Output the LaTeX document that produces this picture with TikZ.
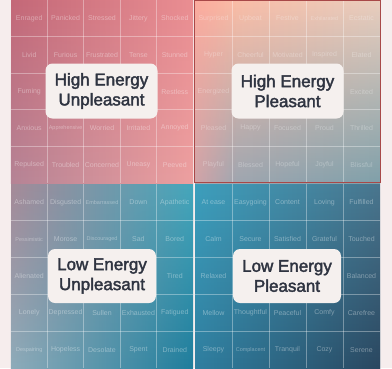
\documentclass[tikz,border=0pt]{standalone}
\usepackage{fontspec}
\setmainfont{Liberation Sans}
\newfontfamily\labelfont[FakeBold=2.2]{Liberation Sans}
\usetikzlibrary{fadings}

\definecolor{pagebg}{HTML}{F6EDED}
\definecolor{labelbg}{HTML}{F5F0EE}
\definecolor{labeltext}{HTML}{2F3441}
\definecolor{frame}{HTML}{A84848}
% corner colours of the four quadrants
\definecolor{heuTL}{HTML}{C46878}
\definecolor{heuTR}{HTML}{EA8E92}
\definecolor{heuBL}{HTML}{B58496}
\definecolor{heuBR}{HTML}{EEA0A0}
\definecolor{hepTL}{HTML}{FFB8A0}
\definecolor{hepTR}{HTML}{EACEBE}
\definecolor{hepBL}{HTML}{A8A8B2}
\definecolor{hepBR}{HTML}{7FA0AA}
\definecolor{hepPink}{HTML}{F9A09E}
\definecolor{leuTL}{HTML}{A68A98}
\definecolor{leuTR}{HTML}{45A7BC}
\definecolor{leuBL}{HTML}{8EACBA}
\definecolor{leuBR}{HTML}{1F7D9C}
\definecolor{lepTL}{HTML}{3D9FBD}
\definecolor{lepTR}{HTML}{4A768E}
\definecolor{lepBL}{HTML}{2F7FA0}
\definecolor{lepBR}{HTML}{2A4760}

\tikzfading[name=fade lin, top color=transparent!100, bottom color=transparent!0]
\tikzfading[name=fade late, top color=transparent!100, middle color=transparent!80, bottom color=transparent!0]

\begin{document}
\begin{tikzpicture}[
    x=1pt, y=-1pt,
    word/.style={font=\fontsize{7}{8}\selectfont, text=white, text opacity=0.38, inner sep=0pt},
    smallword/.style={word, font=\fontsize{5.5}{6}\selectfont},
    paleword/.style={word, text opacity=0.3},
    gridline/.style={white, opacity=0.35, line width=0.8pt},
    quadlabel/.style={fill=labelbg, rounded corners=7pt, minimum width=112pt, minimum height=55pt, inner sep=0pt, align=center, text=labeltext, font=\labelfont\fontsize{17}{20}\selectfont},
    hepframe/.style={draw=frame, line width=1pt}
]

\fill[pagebg] (0,0) rectangle (392,368);
\useasboundingbox (0,0) rectangle (392,368);

% Quadrant 1: High Energy Unpleasant
\shade[left color=heuTL, right color=heuTR] (11,0) rectangle (193,183);
\shade[left color=heuBL, right color=heuBR, path fading=fade lin] (11,0) rectangle (193,183);

% Quadrant 2: High Energy Pleasant
\shade[left color=hepTL, right color=hepTR] (195,0) rectangle (380,183);
\shade[left color=hepBL, right color=hepBR, path fading=fade late] (195,0) rectangle (380,183);
\fill[hepPink, path fading=east, opacity=0.5] (195,0) rectangle (236,183);

% Quadrant 3: Low Energy Unpleasant
\shade[left color=leuTL, right color=leuTR] (11,184) rectangle (193,368);
\shade[left color=leuBL, right color=leuBR, path fading=fade lin] (11,184) rectangle (193,368);

% Quadrant 4: Low Energy Pleasant
\shade[left color=lepTL, right color=lepTR] (195,184) rectangle (380,368);
\shade[left color=lepBL, right color=lepBR, path fading=fade lin] (195,184) rectangle (380,368);

% Grid
\draw[gridline] (47.4,0) -- (47.4,183) (83.8,0) -- (83.8,183) (120.2,0) -- (120.2,183) (156.6,0) -- (156.6,183);
\draw[gridline] (47.4,184) -- (47.4,368) (83.8,184) -- (83.8,368) (120.2,184) -- (120.2,368) (156.6,184) -- (156.6,368);
\draw[gridline] (232,0) -- (232,183) (269,0) -- (269,183) (306,0) -- (306,183) (343,0) -- (343,183);
\draw[gridline] (232,184) -- (232,368) (269,184) -- (269,368) (306,184) -- (306,368) (343,184) -- (343,368);
\draw[gridline] (11,36.6) -- (193,36.6) (11,73.2) -- (193,73.2) (11,109.8) -- (193,109.8) (11,146.4) -- (193,146.4);
\draw[gridline] (195,36.6) -- (380,36.6) (195,73.2) -- (380,73.2) (195,109.8) -- (380,109.8) (195,146.4) -- (380,146.4);
\draw[gridline] (11,220.8) -- (193,220.8) (11,257.6) -- (193,257.6) (11,294.4) -- (193,294.4) (11,331.2) -- (193,331.2);
\draw[gridline] (195,220.8) -- (380,220.8) (195,257.6) -- (380,257.6) (195,294.4) -- (380,294.4) (195,331.2) -- (380,331.2);

% Words: High Energy Unpleasant
\node[word] (enraged) at (29.2,18.3) {Enraged};
\node[word] (panicked) at (65.6,18.3) {Panicked};
\node[word] (stressed) at (102,18.3) {Stressed};
\node[word] (jittery) at (138.4,18.3) {Jittery};
\node[word] (shocked) at (174.8,18.3) {Shocked};
\node[word] (livid) at (29.2,54.9) {Livid};
\node[word] (furious) at (65.6,54.9) {Furious};
\node[word] (frustrated) at (102,54.9) {Frustrated};
\node[word] (tense) at (138.4,54.9) {Tense};
\node[word] (stunned) at (174.8,54.9) {Stunned};
\node[word] (fuming) at (29.2,91.5) {Fuming};
\node[word] (restless) at (174.8,91.5) {Restless};
\node[word] (anxious) at (29.2,128.1) {Anxious};
\node[smallword] (apprehensive) at (65.6,128.1) {Apprehensive};
\node[word] (worried) at (102,128.1) {Worried};
\node[word] (irritated) at (138.4,128.1) {Irritated};
\node[word] (annoyed) at (174.8,128.1) {Annoyed};
\node[word] (repulsed) at (29.2,164.7) {Repulsed};
\node[word] (troubled) at (65.6,164.7) {Troubled};
\node[word] (concerned) at (102,164.7) {Concerned};
\node[word] (uneasy) at (138.4,164.7) {Uneasy};
\node[word] (peeved) at (174.8,164.7) {Peeved};

% Words: High Energy Pleasant
\node[paleword] (surprised) at (213.5,18.3) {Surprised};
\node[paleword] (upbeat) at (250.5,18.3) {Upbeat};
\node[paleword] (festive) at (287.5,18.3) {Festive};
\node[paleword, font=\fontsize{5.5}{6}\selectfont] (exhilarated) at (324.5,18.3) {Exhilarated};
\node[paleword] (ecstatic) at (361.5,18.3) {Ecstatic};
\node[paleword] (hyper) at (213.5,54.9) {Hyper};
\node[paleword] (cheerful) at (250.5,54.9) {Cheerful};
\node[paleword] (motivated) at (287.5,54.9) {Motivated};
\node[paleword] (inspired) at (324.5,54.9) {Inspired};
\node[paleword] (elated) at (361.5,54.9) {Elated};
\node[paleword] (energized) at (213.5,91.5) {Energized};
\node[paleword] (excited) at (361.5,91.5) {Excited};
\node[paleword] (pleased) at (213.5,128.1) {Pleased};
\node[paleword] (happy) at (250.5,128.1) {Happy};
\node[paleword] (focused) at (287.5,128.1) {Focused};
\node[paleword] (proud) at (324.5,128.1) {Proud};
\node[paleword] (thrilled) at (361.5,128.1) {Thrilled};
\node[paleword] (playful) at (213.5,164.7) {Playful};
\node[paleword] (blessed) at (250.5,164.7) {Blessed};
\node[paleword] (hopeful) at (287.5,164.7) {Hopeful};
\node[paleword] (joyful) at (324.5,164.7) {Joyful};
\node[paleword] (blissful) at (361.5,164.7) {Blissful};

% Words: Low Energy Unpleasant
\node[word] (ashamed) at (29.2,202.4) {Ashamed};
\node[word] (disgusted) at (65.6,202.4) {Disgusted};
\node[smallword] (embarrassed) at (102,202.4) {Embarrassed};
\node[word] (down) at (138.4,202.4) {Down};
\node[word] (apathetic) at (174.8,202.4) {Apathetic};
\node[smallword] (pessimistic) at (29.2,239.2) {Pessimistic};
\node[word] (morose) at (65.6,239.2) {Morose};
\node[smallword] (discouraged) at (102,239.2) {Discouraged};
\node[word] (sad) at (138.4,239.2) {Sad};
\node[word] (bored) at (174.8,239.2) {Bored};
\node[word] (alienated) at (29.2,276) {Alienated};
\node[word] (tired) at (174.8,276) {Tired};
\node[word] (lonely) at (29.2,312.8) {Lonely};
\node[word] (depressed) at (65.6,312.8) {Depressed};
\node[word] (sullen) at (102,312.8) {Sullen};
\node[word] (exhausted) at (138.4,312.8) {Exhausted};
\node[word] (fatigued) at (174.8,312.8) {Fatigued};
\node[smallword] (despairing) at (29.2,349.6) {Despairing};
\node[word] (hopeless) at (65.6,349.6) {Hopeless};
\node[word] (desolate) at (102,349.6) {Desolate};
\node[word] (spent) at (138.4,349.6) {Spent};
\node[word] (drained) at (174.8,349.6) {Drained};

% Words: Low Energy Pleasant
\node[word] (atease) at (213.5,202.4) {At ease};
\node[word] (easygoing) at (250.5,202.4) {Easygoing};
\node[word] (content) at (287.5,202.4) {Content};
\node[word] (loving) at (324.5,202.4) {Loving};
\node[word] (fulfilled) at (361.5,202.4) {Fulfilled};
\node[word] (calm) at (213.5,239.2) {Calm};
\node[word] (secure) at (250.5,239.2) {Secure};
\node[word] (satisfied) at (287.5,239.2) {Satisfied};
\node[word] (grateful) at (324.5,239.2) {Grateful};
\node[word] (touched) at (361.5,239.2) {Touched};
\node[word] (relaxed) at (213.5,276) {Relaxed};
\node[word] (balanced) at (361.5,276) {Balanced};
\node[word] (mellow) at (213.5,312.8) {Mellow};
\node[word] (thoughtful) at (250.5,312.8) {Thoughtful};
\node[word] (peaceful) at (287.5,312.8) {Peaceful};
\node[word] (comfy) at (324.5,312.8) {Comfy};
\node[word] (carefree) at (361.5,312.8) {Carefree};
\node[word] (sleepy) at (213.5,349.6) {Sleepy};
\node[smallword] (complacent) at (250.5,349.6) {Complacent};
\node[word] (tranquil) at (287.5,349.6) {Tranquil};
\node[word] (cozy) at (324.5,349.6) {Cozy};
\node[word] (serene) at (361.5,349.6) {Serene};

% Highlight of the selected quadrant
\draw[hepframe] (194.5,0.5) rectangle (380.5,182);

% Quadrant labels
\node[quadlabel] (heu) at (101.5,91) {High Energy\\Unpleasant};
\node[quadlabel] (hep) at (287.5,91) {High Energy\\Pleasant};
\node[quadlabel, minimum width=108pt, minimum height=54pt] (leu) at (102,276) {Low Energy\\Unpleasant};
\node[quadlabel, minimum width=108pt, minimum height=54pt] (lep) at (287,276) {Low Energy\\Pleasant};

\end{tikzpicture}
\end{document}
